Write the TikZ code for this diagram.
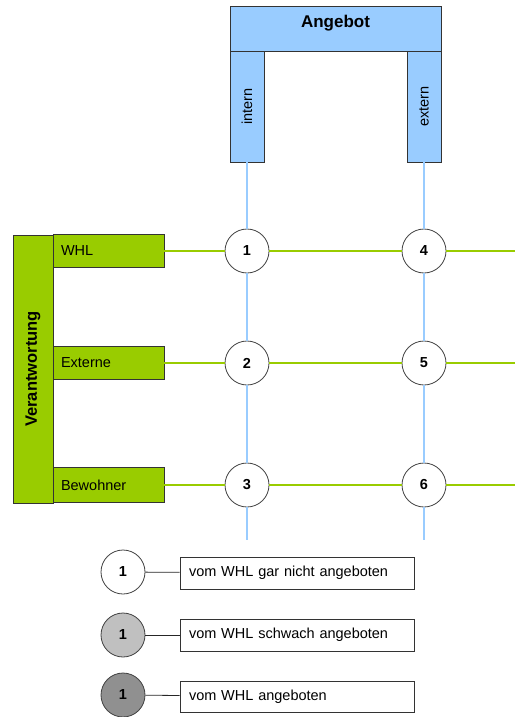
\documentclass[tikz,border=0pt]{standalone}
\usepackage{fontspec}
\setmainfont{Liberation Sans}
\usetikzlibrary{positioning}
\definecolor{blau}{HTML}{99CCFF}
\definecolor{gruen}{HTML}{99CC00}
\definecolor{randgrau}{HTML}{333333}
\definecolor{hellgrau}{HTML}{C0C0C0}
\definecolor{mittelgrau}{HTML}{909090}

\begin{document}
\begin{tikzpicture}[x=1pt, y=-1pt, on grid, node distance={112pt},
  kreis/.style = {draw=black!75, line width=0.8pt, circle, fill=white, minimum size=44pt, inner sep=0pt, font=\fontsize{14.5}{17}\selectfont\bfseries},
  balken/.style = {draw=randgrau, line width=0.8pt, inner sep=0pt, font=\fontsize{14.5}{17}\selectfont},
  angebot/.style = {balken, fill=blau},
  verantw/.style = {balken, fill=gruen},
  zeile/.style = {verantw, minimum height=33pt, text width=95pt, inner xsep=8pt, align=left},
  legende/.style = {balken, fill=white, minimum height=32pt, text width=216pt, inner xsep=9pt, align=left},
  gline/.style = {gruen, line width=2.5pt},
  bline/.style = {blau, line width=2pt},
  lline/.style = {black!85, line width=0.8pt}]

\useasboundingbox (0,0) rectangle (515,717);

\node[angebot, minimum width=211pt, minimum height=45pt, text height=12pt, text depth=14pt, font=\fontsize{17}{20}\selectfont\bfseries] (A) at (335.5,28.5) {Angebot};
\node[angebot, rotate=90, minimum width=111pt, minimum height=34pt] (I) at (247,106.5) {intern};
\node[angebot, rotate=90, minimum width=111pt, minimum height=34pt] (E) at (424,106.5) {extern};

\node[verantw, rotate=90, minimum width=268pt, minimum height=40pt, font=\fontsize{16.5}{19}\selectfont\bfseries] (V) at (33,369) {Verantwortung};
\node[zeile] (W) at (108.5,251) {WHL};
\node[zeile] (X) at (108.5,363) {Externe};
\node[zeile, minimum height=35pt] (B) at (108.5,485) {Bewohner};

\node[kreis] (k1) at (247,251) {1};
\node[kreis] (k2) [below=of k1] {2};
\node[kreis] (k3) [below=122pt of k2] {3};
\node[kreis] (k4) [right=177pt of k1] {4};
\node[kreis] (k5) [below=of k4] {5};
\node[kreis] (k6) [below=122pt of k5] {6};

\coordinate (ie) at (247,540);
\coordinate (ee) at (424,540);
\coordinate (r1) at (515,251);
\coordinate (r2) at (515,363);
\coordinate (r3) at (515,485);

\draw[bline] (I) -- (k1) -- (k2) -- (k3) -- (ie);
\draw[bline] (E) -- (k4) -- (k5) -- (k6) -- (ee);
\draw[gline] (W) -- (k1) -- (k4) -- (r1);
\draw[gline] (X) -- (k2) -- (k5) -- (r2);
\draw[gline] (B) -- (k3) -- (k6) -- (r3);

\node[kreis] (l1) at (123,572) {1};
\node[kreis, fill=hellgrau] (l2) [below=63pt of l1] {1};
\node[kreis, fill=mittelgrau] (l3) [below=60pt of l2] {1};
\node[legende] (t1) at (297,573) {vom WHL gar nicht angeboten};
\node[legende] (t2) at (297,635) {vom WHL schwach angeboten};
\node[legende, minimum height=31pt] (t3) at (297,696.5) {vom WHL angeboten};

\draw[lline] (l1) -- (t1);
\draw[lline] (l2) -- (t2);
\draw[lline] (l3) -- (t3);

\end{tikzpicture}
\end{document}
